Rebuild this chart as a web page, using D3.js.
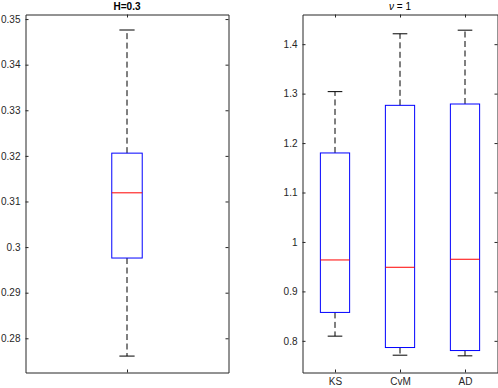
<!DOCTYPE html>
<html>
<head>
<meta charset="utf-8">
<script src="https://cdn.jsdelivr.net/npm/d3@7"></script>
<style>
  body { margin: 0; background: #fff; }
  svg { display: block; }
  .tick text { font-family: "Liberation Sans", Arial, sans-serif; font-size: 10px; fill: #262626; }
  .tick line, .domain { stroke: #262626; }
  .title { font-family: "Liberation Sans", Arial, sans-serif; font-size: 10px; fill: #000; }
</style>
</head>
<body>
<svg id="chart" width="498" height="388"></svg>
<script>
// left panel: H=0.3 (single box)
var hCategories = [""];
var hMin = [0.2761];
var hQ1  = [0.2976];
var hMed = [0.3119];
var hQ3  = [0.3206];
var hMax = [0.3476];
var hTicks = [0.28, 0.29, 0.3, 0.31, 0.32, 0.33, 0.34, 0.35];

// right panel: nu = 1
var nuCategories = ["KS", "CvM", "AD"];
var nuMin = [0.8095, 0.771, 0.7697];
var nuQ1  = [0.8575, 0.7865, 0.7804];
var nuMed = [0.9636, 0.9488, 0.965];
var nuQ3  = [1.18, 1.2763, 1.279];
var nuMax = [1.304, 1.421, 1.4283];
var nuTicks = [0.8, 0.9, 1, 1.1, 1.2, 1.3, 1.4];

var svg = d3.select("#chart");

function drawPanel(opt)
{
  var x = d3.scaleLinear().domain([0.5, opt.cats.length + 0.5]).range([opt.x0, opt.x1]);
  var y = d3.scaleLinear().domain(opt.yDomain).range([opt.y1, opt.y0]);
  var pos = opt.cats.map(function(c, i){ return i + 1; });
  var g = svg.append("g");

  g.append("g").attr("transform", "translate(" + opt.x0 + ",0)")
    .call(d3.axisLeft(y).tickValues(opt.ticks).tickSizeInner(-3).tickSizeOuter(0).tickPadding(5)
      .tickFormat(function(d){ return String(d); }));
  g.append("g").attr("transform", "translate(" + opt.x1 + ",0)")
    .call(d3.axisRight(y).tickValues(opt.ticks).tickSizeInner(-3).tickSizeOuter(0).tickFormat(""));
  g.append("g").attr("transform", "translate(0," + opt.y1 + ")")
    .call(d3.axisBottom(x).tickValues(pos).tickSizeInner(-3).tickSizeOuter(0).tickPadding(5)
      .tickFormat(function(d){ return opt.cats[d - 1]; }));
  g.append("g").attr("transform", "translate(0," + opt.y0 + ")")
    .call(d3.axisTop(x).tickValues(pos).tickSizeInner(-3).tickSizeOuter(0).tickFormat(""));

  var hw = opt.boxWidth / 2;
  var boxes = g.selectAll(".box").data(pos).enter().append("g").attr("class", "box");

  // whiskers
  boxes.append("line")
    .attr("x1", function(d){ return x(d); }).attr("x2", function(d){ return x(d); })
    .attr("y1", function(d, i){ return y(opt.q3[i]); }).attr("y2", function(d, i){ return y(opt.max[i]); })
    .attr("stroke", "#000").attr("stroke-dasharray", "6,3.5");
  boxes.append("line")
    .attr("x1", function(d){ return x(d); }).attr("x2", function(d){ return x(d); })
    .attr("y1", function(d, i){ return y(opt.q1[i]); }).attr("y2", function(d, i){ return y(opt.min[i]); })
    .attr("stroke", "#000").attr("stroke-dasharray", "6,3.5");
  // caps
  boxes.append("line")
    .attr("x1", function(d){ return x(d - hw / 2); }).attr("x2", function(d){ return x(d + hw / 2); })
    .attr("y1", function(d, i){ return y(opt.max[i]); }).attr("y2", function(d, i){ return y(opt.max[i]); })
    .attr("stroke", "#000");
  boxes.append("line")
    .attr("x1", function(d){ return x(d - hw / 2); }).attr("x2", function(d){ return x(d + hw / 2); })
    .attr("y1", function(d, i){ return y(opt.min[i]); }).attr("y2", function(d, i){ return y(opt.min[i]); })
    .attr("stroke", "#000");
  // box
  boxes.append("rect")
    .attr("x", function(d){ return x(d - hw); })
    .attr("width", function(d){ return x(d + hw) - x(d - hw); })
    .attr("y", function(d, i){ return y(opt.q3[i]); })
    .attr("height", function(d, i){ return y(opt.q1[i]) - y(opt.q3[i]); })
    .attr("fill", "none").attr("stroke", "#0000ff");
  // median
  boxes.append("line")
    .attr("x1", function(d){ return x(d - hw); }).attr("x2", function(d){ return x(d + hw); })
    .attr("y1", function(d, i){ return y(opt.med[i]); }).attr("y2", function(d, i){ return y(opt.med[i]); })
    .attr("stroke", "#ff0000");

  var title = g.append("text").attr("class", "title")
    .attr("x", (opt.x0 + opt.x1) / 2).attr("y", 9.5)
    .attr("text-anchor", "middle");
  opt.title(title);
}

drawPanel({
  cats: hCategories, min: hMin, q1: hQ1, med: hMed, q3: hQ3, max: hMax, ticks: hTicks,
  yDomain: [0.2725, 0.351], x0: 25.5, x1: 228.5, y0: 14.5, y1: 372.5, boxWidth: 0.15,
  title: function(t){ t.attr("font-weight", "bold").text("H=0.3"); }
});

drawPanel({
  cats: nuCategories, min: nuMin, q1: nuQ1, med: nuMed, q3: nuQ3, max: nuMax, ticks: nuTicks,
  yDomain: [0.736, 1.46], x0: 302.5, x1: 497.5, y0: 14.5, y1: 372.5, boxWidth: 0.45,
  title: function(t){
    t.append("tspan").attr("font-style", "italic").text("\u03bd");
    t.append("tspan").text(" = 1");
  }
});
</script>
</body>
</html>
